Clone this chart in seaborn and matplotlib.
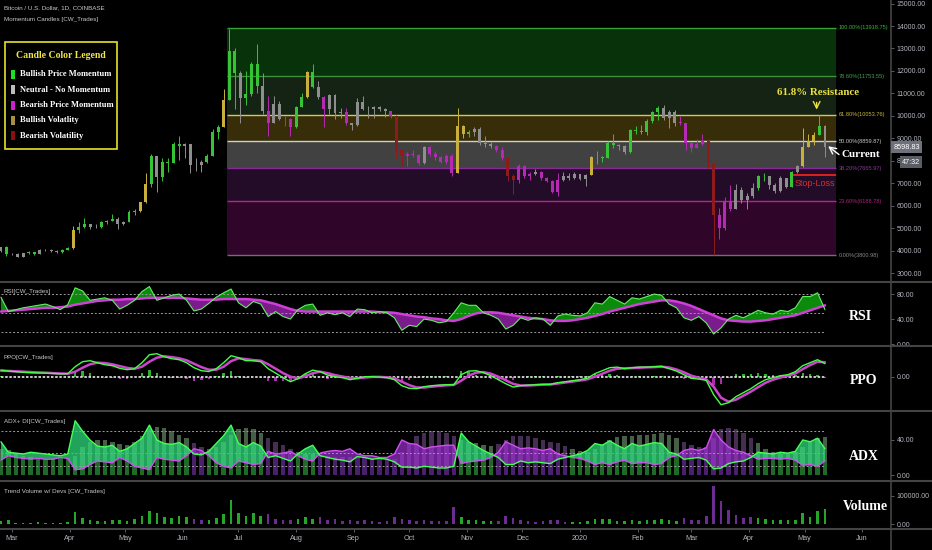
import matplotlib
matplotlib.use("Agg")
import matplotlib.pyplot as plt
import matplotlib.dates as mdates
from matplotlib.lines import Line2D
from matplotlib.patches import Rectangle
from matplotlib.ticker import FormatStrFormatter
import numpy as np
import pandas as pd
import seaborn as sns

# ---------------- data ----------------
# price candles, one per 3 days from 2019-02-23 to 2020-05-12
first_open = 3980
closes = [4140, 3830, 3830, 3720, 3880, 3930, 3860, 4020, 4010, 3990,
          3920, 4030, 4100, 4920, 5050, 5180, 5060, 5040, 5270, 5300,
          5420, 5190, 5270, 5720, 5750, 6150, 6950, 8200, 7260, 7950,
          7900, 8750, 8650, 8730, 7800, 7800, 7950, 8230, 9300, 9520,
          10700, 12900, 11900, 10800, 10980, 12300, 11350, 10200, 9700, 10530,
          9850, 9850, 9500, 10400, 10820, 11950, 11300, 10850, 10300, 10920,
          10130, 10150, 9700, 9600, 10600, 10300, 10300, 10400, 10300, 10200,
          9980, 8500, 8200, 8300, 8250, 7900, 8600, 8300, 8150, 7950,
          8220, 7450, 9550, 9170, 9300, 9420, 8800, 8750, 8650, 8500,
          8100, 7300, 7150, 7750, 7300, 7400, 7500, 7220, 7100, 6620,
          7150, 7330, 7240, 7400, 7200, 7350, 8150, 8180, 8110, 8800,
          8700, 8650, 8400, 9380, 9330, 9300, 9750, 10150, 10350, 9900,
          10180, 9700, 9700, 8800, 8550, 8750, 8900, 7900, 5600, 5000,
          6200, 5850, 6700, 6250, 6430, 6800, 7300, 7300, 6900, 6650,
          7250, 6850, 7500, 7750, 8620, 8900, 9150, 9550, 8600]
highs = [4180, 4210, 3900, 3880, 3900, 3960, 3940, 4050, 4050, 4060,
         4020, 4060, 4140, 5100, 5250, 5450, 5200, 5200, 5320, 5380,
         5620, 5480, 5330, 5800, 5860, 6170, 7450, 8300, 8200, 8100,
         8100, 8850, 9100, 8800, 8750, 8100, 8050, 8300, 9400, 9600,
         11200, 13880, 13000, 12000, 12000, 12400, 13200, 11900, 10900, 10900,
         10650, 10000, 9900, 10450, 11000, 12000, 12300, 11550, 10900, 10950,
         10950, 10350, 10350, 9700, 10800, 10900, 10450, 10450, 10450, 10350,
         10200, 10050, 8500, 8380, 8500, 8300, 8650, 8650, 8450, 8200,
         8300, 8280, 10350, 9600, 9350, 9500, 9500, 9100, 8850, 8700,
         8600, 8100, 7400, 7850, 7800, 7500, 7650, 7550, 7280, 7150,
         7450, 7500, 7450, 7500, 7420, 7400, 8200, 8450, 8200, 8900,
         9200, 8750, 8700, 9400, 9550, 9600, 9850, 10200, 10450, 10500,
         10250, 10250, 10000, 9700, 8800, 8950, 9200, 8900, 7950, 5900,
         6400, 6900, 6950, 6850, 6550, 7000, 7350, 7450, 7300, 7000,
         7300, 7250, 7550, 7800, 9450, 9200, 9300, 10050, 9600]
lows = [3950, 3760, 3780, 3700, 3700, 3850, 3820, 3850, 3980, 3930,
        3900, 3910, 4020, 4090, 4800, 5000, 4950, 5000, 5000, 5200,
        5300, 4980, 5150, 5250, 5600, 5700, 6100, 6850, 6600, 7100,
        7500, 7900, 8050, 8100, 7450, 7550, 7500, 7900, 8200, 8950,
        9500, 10700, 10300, 9700, 10500, 10900, 11000, 10100, 9100, 9700,
        9800, 9550, 9100, 9450, 10400, 10800, 11250, 10750, 9500, 10100,
        9850, 9900, 9600, 9350, 9550, 10250, 9900, 9900, 10200, 9950,
        9900, 8100, 7750, 7750, 8150, 7800, 7850, 8200, 8050, 7900,
        7850, 7300, 7450, 9000, 9050, 9100, 8700, 8600, 8550, 8400,
        8050, 7100, 6520, 7000, 7250, 7150, 7350, 7150, 7050, 6560,
        6430, 7100, 7150, 7200, 7150, 6870, 7350, 7850, 7950, 8100,
        8550, 8500, 8300, 8350, 9200, 9200, 9150, 9700, 9800, 9800,
        9450, 9550, 9600, 8500, 8400, 8550, 8700, 7650, 3810, 4500,
        4900, 5750, 5850, 6100, 5850, 6350, 6700, 7100, 6750, 6550,
        6600, 6800, 6850, 7450, 7700, 8600, 8700, 9150, 8150]
# g bullish momentum, n neutral, m bearish momentum, y bullish volatility, r bearish volatility
candle_codes = ("ngnnnggngnngg" "y" "ggnnggg" "nn" "gg" "yy" "gngggg" "nnnn" "ggg" "y"
                "gg" "n" "ggg" "nmnnmm" "ggygn" "mnnnmn" "nnnnnn" "m" "rr" "mmmnmmmmm"
                "yy" "gnnnn" "mm" "rr" "mmmnmmmm" "nnnnn" "y" "ggggg" "n" "gggggg"
                "nnn" "mmmmm" "rr" "mmm" "nnnn" "gg" "nnnn" "g" "n" "yyy" "g" "n")

# indicators, one value per 4 days from 2019-02-23 to 2020-05-12
rsi = [75, 52, 55, 58, 60, 62, 64, 60, 55, 63,
       90, 85, 70, 72, 74, 70, 56, 62, 70, 84,
       92, 70, 74, 78, 80, 70, 53, 56, 65, 75,
       82, 88, 66, 58, 68, 64, 44, 52, 44, 40,
       55, 62, 64, 46, 50, 47, 50, 44, 56, 55,
       50, 52, 50, 42, 22, 30, 28, 40, 38, 34,
       36, 50, 66, 62, 62, 50, 46, 40, 24, 30,
       42, 38, 42, 40, 30, 45, 48, 46, 45, 50,
       66, 64, 76, 70, 64, 74, 72, 76, 80, 78,
       64, 58, 42, 38, 44, 34, 16, 26, 40, 46,
       42, 48, 54, 50, 48, 54, 52, 58, 76, 76,
       82, 55]
rsi_ma = [52, 53, 54, 55, 56, 57, 58, 58, 59, 60,
          63, 65, 67, 69, 70, 71, 71, 72, 72, 73,
          74, 74, 74, 74, 74, 73, 72, 71, 71, 71,
          72, 72, 72, 72, 71, 70, 67, 64, 60, 56,
          53, 52, 52, 52, 52, 52, 52, 52, 52, 52,
          52, 51, 51, 50, 48, 46, 44, 43, 41, 40,
          38, 37, 40, 45, 49, 51, 51, 50, 48, 46,
          44, 42, 41, 40, 38, 37, 37, 38, 40, 42,
          45, 48, 52, 55, 58, 61, 64, 66, 68, 70,
          70, 68, 65, 61, 56, 51, 46, 41, 38, 37,
          36, 36, 37, 38, 40, 42, 44, 46, 50, 54,
          58, 62]
ppo = [3.3, 2.8, 2.5, 2.2, 2.0, 1.9, 1.8, 1.6, 1.4, 1.5,
       5.0, 7.5, 8.0, 7.0, 6.0, 5.5, 4.2, 3.5, 4.0, 7.0,
       11.0, 11.5, 10.0, 9.0, 8.5, 7.0, 4.5, 3.0, 2.6, 4.0,
       7.0, 10.5, 9.5, 8.0, 8.0, 7.5, 4.0, 1.8, -0.5, -2.5,
       -1.0, 1.5, 3.3, 2.5, 0.8, 0.0, -0.5, -1.5, -0.8, 0.0,
       0.0, -0.2, -0.5, -1.5, -4.5, -5.8, -6.0, -5.0, -4.5, -4.2,
       -4.0, -4.0, 1.0, 2.8, 3.0, 2.0, 0.5, -1.5, -3.5, -5.2,
       -4.5, -4.2, -4.0, -3.8, -3.8, -3.0, -2.5, -2.0, -1.5, -0.8,
       1.5, 3.0, 4.5, 4.8, 4.0, 4.5, 4.8, 4.8, 5.0, 5.2,
       4.0, 2.8, 1.0, -0.8, -1.2, -1.8, -9.0, -14.0, -13.0, -10.0,
       -8.0, -6.0, -3.5, -1.5, -0.5, 0.5, 1.0, 2.5, 5.5, 7.0,
       8.5, 6.5]
ppo_signal = [3.0, 2.9, 2.7, 2.5, 2.3, 2.1, 2.0, 1.8, 1.6, 1.5,
              2.5, 4.5, 6.2, 7.0, 6.8, 6.2, 5.3, 4.4, 4.0, 5.0,
              7.5, 9.5, 10.2, 9.8, 9.2, 8.2, 6.5, 4.8, 3.5, 3.5,
              5.0, 7.8, 9.2, 8.8, 8.3, 8.0, 6.2, 4.0, 1.8, 0.0,
              -0.8, 0.2, 1.8, 2.5, 1.8, 0.8, 0.1, -0.6, -0.8, -0.4,
              -0.1, -0.1, -0.3, -0.8, -2.5, -4.2, -5.4, -5.4, -5.0, -4.6,
              -4.3, -4.1, -2.0, 0.5, 2.0, 2.3, 1.5, 0.0, -1.8, -3.6,
              -4.4, -4.4, -4.2, -4.0, -3.9, -3.4, -2.9, -2.4, -1.9, -1.3,
              0.0, 1.5, 3.0, 4.0, 4.2, 4.3, 4.5, 4.7, 4.8, 5.0,
              4.6, 3.6, 2.2, 0.5, -0.5, -1.3, -5.0, -10.5, -12.5, -11.5,
              -9.5, -7.5, -5.2, -3.0, -1.5, -0.4, 0.5, 1.6, 3.8, 5.8,
              7.5, 7.2]
adx = [30, 28, 25, 22, 20, 18, 17, 16, 15, 15,
       22, 32, 38, 40, 40, 38, 35, 34, 38, 45,
       52, 55, 54, 50, 46, 42, 36, 32, 30, 32,
       38, 46, 52, 54, 52, 48, 42, 38, 34, 30,
       26, 24, 24, 23, 22, 21, 21, 20, 19, 18,
       17, 16, 16, 18, 26, 36, 44, 48, 50, 50,
       48, 44, 40, 38, 36, 34, 33, 35, 40, 44,
       45, 44, 42, 40, 38, 36, 33, 30, 27, 26,
       30, 35, 40, 43, 44, 45, 46, 46, 47, 48,
       46, 42, 38, 34, 32, 32, 42, 52, 54, 52,
       48, 42, 36, 30, 26, 24, 24, 26, 32, 38,
       42, 43]
di_plus = [38, 26, 25, 24, 26, 25, 24, 23, 22, 24,
           62, 50, 40, 33, 32, 34, 27, 30, 36, 42,
           57, 40, 36, 35, 37, 32, 24, 23, 27, 36,
           45, 57, 36, 32, 37, 33, 20, 22, 19, 16,
           24, 30, 34, 22, 20, 18, 17, 15, 21, 20,
           18, 19, 18, 15, 9, 9, 8, 10, 9, 8,
           8, 10, 48, 38, 33, 28, 24, 20, 12, 12,
           16, 14, 15, 14, 13, 18, 20, 22, 24, 28,
           36, 34, 39, 34, 30, 36, 33, 35, 37, 36,
           26, 24, 18, 19, 20, 17, 7, 8, 13, 15,
           16, 20, 26, 25, 24, 26, 25, 27, 40, 38,
           42, 30]
di_minus = [17, 22, 20, 19, 18, 19, 18, 18, 20, 19,
            6, 7, 12, 16, 15, 14, 20, 16, 10, 8,
            6, 20, 18, 17, 16, 22, 30, 28, 22, 14,
            10, 8, 16, 14, 12, 13, 27, 24, 25, 27,
            22, 18, 16, 25, 27, 28, 27, 30, 24, 22,
            22, 20, 20, 24, 40, 36, 35, 30, 32, 33,
            34, 34, 13, 15, 16, 17, 20, 26, 38, 34,
            30, 31, 30, 28, 30, 24, 22, 20, 19, 16,
            12, 14, 12, 15, 17, 13, 14, 14, 12, 13,
            20, 22, 28, 30, 28, 31, 52, 40, 32, 28,
            26, 22, 18, 19, 19, 18, 19, 17, 11, 12,
            10, 16]
volume_k = [12, 14, 6, 5, 6, 7, 5, 6, 5, 8,
            44, 22, 16, 12, 10, 14, 16, 12, 18, 30,
            48, 40, 26, 22, 30, 24, 18, 14, 14, 22,
            36, 85, 40, 28, 38, 30, 36, 20, 14, 14,
            18, 26, 20, 24, 16, 18, 10, 14, 12, 16,
            10, 8, 10, 26, 20, 16, 10, 16, 10, 10,
            12, 60, 26, 14, 14, 10, 10, 12, 30, 22,
            14, 12, 8, 10, 14, 16, 8, 8, 8, 12,
            18, 20, 18, 12, 10, 16, 12, 14, 14, 18,
            16, 12, 22, 14, 16, 28, 134, 80, 50, 34,
            22, 24, 22, 18, 16, 14, 16, 16, 40, 24,
            45, 52]

fib_pct = [100.0, 78.6, 61.8, 50.0, 38.2, 23.6, 0.0]
fib_price = [13918.75, 11753.55, 10053.76, 8859.87, 7665.97, 6188.78, 3800.98]

month_ticks = ["2019-03-01", "2019-04-01", "2019-05-01", "2019-06-01", "2019-07-01",
               "2019-08-01", "2019-09-01", "2019-10-01", "2019-11-01", "2019-12-01",
               "2020-01-01", "2020-02-01", "2020-03-01", "2020-04-01", "2020-05-01",
               "2020-06-01"]
month_labels = ["Mar", "Apr", "May", "Jun", "Jul", "Aug", "Sep", "Oct", "Nov", "Dec",
                "2020", "Feb", "Mar", "Apr", "May", "Jun"]

legend_names = ["Bullish Price Momentum", "Neutral - No Momentum", "Bearish Price Momentum",
                "Bullish Volatlity", "Bearish Volatility"]

# ---------------- style ----------------
sns.set_theme(style="dark", rc={"axes.facecolor": "black", "figure.facecolor": "black",
                                "savefig.facecolor": "black", "axes.grid": False})
plt.rcParams["font.family"] = ["Liberation Sans", "DejaVu Sans"]
SERIF = ["Liberation Serif", "DejaVu Serif"]

candle_colors = {"g": "#36c436", "n": "#8e8e8e", "m": "#b52ab5", "y": "#c9b03c", "r": "#8e1b1b"}
legend_colors = ["#1fe01f", "#bdbdbd", "#d21ed2", "#a89040", "#8b0f0f"]
zone_colors = ["#07320a", "#142314", "#372d08", "#414141", "#230c28", "#30052a"]
fib_line_colors = ["#3aa03a", "#3d8f3d", "#d8c850", "#d0d0c0", "#8a2a9a", "#c0208a", "#707070"]
fib_text_colors = ["#3cb43c", "#4a9a4a", "#c8b840", "#c8c8c8", "#8c3a9c", "#b02080", "#8a8a8a"]
TXT = "#b2b5be"

W, H = 932.0, 550.0


def d(s):
    return mdates.date2num(pd.Timestamp(s))


def px(x, y):
    return x / W, 1 - y / H


x_left = d("2019-02-22 12:00")
x_right = x_left + 890 / 1.856

xc = mdates.date2num(pd.date_range("2019-02-23", periods=len(closes), freq="3D"))
xi = mdates.date2num(pd.date_range("2019-02-23", periods=len(rsi), freq="4D"))

fig = plt.figure(figsize=(9.32, 5.5), dpi=100)


def panel(top, bottom, ticks, ylim):
    ax = fig.add_axes([0, 1 - bottom / H, 890 / W, (bottom - top) / H])
    ax.set_facecolor("black")
    for s in ax.spines.values():
        s.set_visible(False)
    ax.set_xlim(x_left, x_right)
    ax.set_ylim(*ylim)
    ax.yaxis.tick_right()
    ax.set_yticks(ticks)
    ax.yaxis.set_major_formatter(FormatStrFormatter("%.2f"))
    ax.tick_params(axis="y", colors="#6a6d78", labelcolor=TXT, labelsize=5, length=3,
                   width=0.6, pad=2, direction="out", right=True, left=False)
    ax.tick_params(axis="x", bottom=False, labelbottom=False)
    ax.grid(False)
    return ax


ax_p = panel(0, 281, np.arange(3000, 15001, 1000), (2644, 15158))
ax_r = panel(282, 345, [0, 40, 80], (-1.5, 99.3))
ax_o = panel(346, 410, [0], (-16.65, 15.35))
ax_a = panel(411, 480, [0, 40], (-5.7, 73.1))
ax_v = panel(481, 528, [0, 100000], (-12900, 151400))

# ---------------- price panel ----------------
fx0, fx1 = d("2019-06-24 18:00"), d("2020-05-18")
for i in range(len(fib_price) - 1):
    ax_p.fill_between([fx0, fx1], fib_price[i + 1], fib_price[i], color=zone_colors[i], lw=0, zorder=1)
for p, v, lc, tc in zip(fib_pct, fib_price, fib_line_colors, fib_text_colors):
    ax_p.hlines(v, fx0, fx1, colors=lc, lw=1.0, zorder=2)
    ax_p.text(fx1 + 1.6, v, f"{p:.2f}%({v:.2f})", color=tc, fontsize=4.1, va="center",
              ha="left", clip_on=True, zorder=5)

o = np.array([first_open] + closes[:-1], float)
c = np.array(closes, float)
col = [candle_colors[k] for k in candle_codes]
ax_p.vlines(xc, lows, highs, colors=col, lw=0.7, zorder=3)
ax_p.bar(xc, np.maximum(np.abs(c - o), 25), bottom=np.minimum(o, c), width=1.6,
         color=col, lw=0, zorder=4)

# annotations
ax_p.text(d("2020-05-08"), 11060, "61.8% Resistance", color="#ece244", fontsize=7.8,
          fontweight="bold", family=SERIF, ha="center", va="center", zorder=6)
ax_p.annotate("", xy=(d("2020-05-07 12:00"), 10150), xytext=(d("2020-05-07 12:00"), 10720),
              arrowprops=dict(arrowstyle="->", color="#ece244", lw=1.0), zorder=6)
ax_p.text(d("2020-05-21"), 8290, "Current", color="white", fontsize=8, fontweight="bold",
          family=SERIF, ha="left", va="center", zorder=6)
ax_p.annotate("", xy=(d("2020-05-12 12:00"), 8720), xytext=(d("2020-05-20 18:00"), 8200),
              arrowprops=dict(arrowstyle="->", color="white", lw=1.0), zorder=6)
ax_p.hlines(7365, d("2020-04-24 18:00"), d("2020-05-18"), colors="#e02020", lw=1.4, zorder=6)
ax_p.text(d("2020-05-06 12:00"), 6990, "Stop-Loss", color="#d32f2f", fontsize=6.5,
          ha="center", va="center", zorder=6)

# ---------------- RSI ----------------
r = np.array(rsi, float)
rm = np.array(rsi_ma, float)
ax_r.hlines([80, 50, 20], xi[0], xi[-1], colors="#9a9a9a", lw=0.7, linestyles=(0, (2, 2)))
ax_r.fill_between(xi, r, rm, where=r >= rm, interpolate=True, color="#0b8a0b", lw=0)
ax_r.fill_between(xi, r, rm, where=r < rm, interpolate=True, color="#7a1c8c", lw=0)
sns.lineplot(x=xi, y=rm, ax=ax_r, color="#d040d8", linewidth=1.8, legend=False)
sns.lineplot(x=xi, y=r, ax=ax_r, color="#66ee66", linewidth=0.8, legend=False)

# ---------------- PPO ----------------
pp = np.array(ppo, float)
ps = np.array(ppo_signal, float)
hist = pp - ps
ax_o.bar(xi, hist, width=1.3, color=np.where(hist >= 0, "#2fb02f", "#a830a8"), lw=0)
ax_o.hlines(0, xi[0], xi[-1], colors="#e8e8e8", lw=1.2, linestyles=(0, (1.5, 1)))
sns.lineplot(x=xi, y=ps, ax=ax_o, color="#cc44cc", linewidth=1.8, legend=False)
sns.lineplot(x=xi, y=pp, ax=ax_o, color="#44ff44", linewidth=1.0, legend=False)

# ---------------- ADX / DI ----------------
a = np.array(adx, float)
dp = np.array(di_plus, float)
dm = np.array(di_minus, float)
bull = dp >= dm
ax_a.bar(xi, a, width=2.4, color=np.where(bull, "#8fbf8f", "#8a5aa8"), alpha=0.5, lw=0)
ax_a.bar(xi, np.minimum(dp, dm), width=2.4, color=np.where(bull, "#1d6b26", "#4a1f6e"), lw=0)
ax_a.hlines([50, 25, 10], xi[0], xi[-1], colors="#9a9a9a", lw=0.7, linestyles=(0, (2, 2)))
ax_a.fill_between(xi, dp, dm, where=bull, interpolate=True, color="#2edb7a", alpha=0.75, lw=0)
ax_a.fill_between(xi, dp, dm, where=~bull, interpolate=True, color="#9b30d0", alpha=0.7, lw=0)
sns.lineplot(x=xi, y=dm, ax=ax_a, color="#d050f0", linewidth=1.0, legend=False)
sns.lineplot(x=xi, y=dp, ax=ax_a, color="#44ff55", linewidth=1.0, legend=False)

# ---------------- volume ----------------
vol = np.array(volume_k, float) * 1000
ax_v.bar(xi, vol, width=1.4, color=np.where(bull, "#26a626", "#6b2d8f"), lw=0)

for ax in (ax_r, ax_o, ax_a, ax_v):
    ax.set_xlim(x_left, x_right)
    ax.set_xlabel("")
    ax.set_ylabel("")

ax_v.set_xticks([d(m) for m in month_ticks])
ax_v.set_xticklabels(month_labels)
ax_v.tick_params(axis="x", bottom=True, labelbottom=True, colors="#6a6d78", labelcolor=TXT,
                 labelsize=5.2, length=3, width=0.6, pad=2)

# ---------------- frame lines ----------------
for yy in (281.5, 345.5, 410.5, 480.5, 528.5):
    fig.add_artist(Line2D([0, 1], [1 - yy / H] * 2, color="#444444", lw=1.5, transform=fig.transFigure))
fig.add_artist(Line2D([890.5 / W] * 2, [0, 1], color="#444444", lw=1.2, transform=fig.transFigure))

# ---------------- texts ----------------
small = dict(color="#c8c8c8", fontsize=4.5, va="center", ha="left")
fig.text(*px(4, 8), "Bitcoin / U.S. Dollar, 1D, COINBASE", **small)
fig.text(*px(4, 20), "Momentum Candles [CW_Trades]", **small)
fig.text(*px(4, 292), "RSI[CW_Trades]", **small)
fig.text(*px(4, 357), "PPO[CW_Trades]", **small)
fig.text(*px(4, 422), "ADX+ DI[CW_Trades]", **small)
fig.text(*px(4, 492), "Trend Volume w/ Devs [CW_Trades]", **small)

big = dict(color="white", fontsize=10, fontweight="bold", family=SERIF, ha="center", va="center")
fig.text(*px(860, 316), "RSI", **big)
fig.text(*px(864, 380), "PPO", **big)
fig.text(*px(864, 456), "ADX", **big)
fig.text(*px(865, 507), "Volume", **big)

fig.text(*px(906.5, 147), "8598.83", color="white", fontsize=5.2, ha="center", va="center",
         bbox=dict(boxstyle="square,pad=0.3", fc="#6e717b", ec="none"), zorder=10)
fig.text(*px(911, 162), "47:32", color="white", fontsize=5.2, ha="center", va="center",
         bbox=dict(boxstyle="square,pad=0.3", fc="#5a5d66", ec="none"), zorder=10)

# candle colour legend
fig.add_artist(Rectangle(px(5, 149), 112 / W, 107 / H, transform=fig.transFigure,
                         facecolor="black", edgecolor="#e8e030", lw=1.2, zorder=5))
fig.text(*px(61, 55), "Candle Color Legend", color="#f2e64a", fontsize=7, fontweight="bold",
         family=SERIF, ha="center", va="center", zorder=6)
for i, (name, lc) in enumerate(zip(legend_names, legend_colors)):
    yy = 74 + i * 15.5
    fig.add_artist(Rectangle(px(11, yy + 4.5), 4 / W, 9 / H, transform=fig.transFigure,
                             facecolor=lc, edgecolor="none", zorder=6))
    fig.text(*px(20, yy), name, color="white", fontsize=6.1, fontweight="bold", family=SERIF,
             ha="left", va="center", zorder=6)

fig.savefig("out.png", dpi=100, facecolor="black")
